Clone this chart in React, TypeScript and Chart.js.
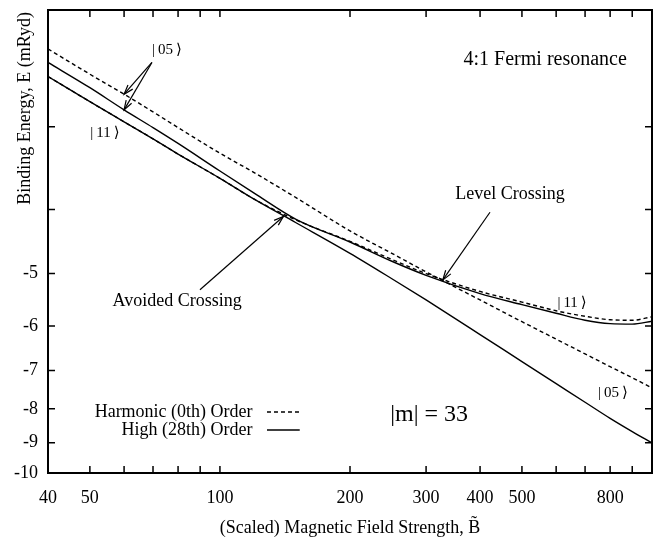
import React, { useEffect, useRef } from 'react';
import { Chart, registerables } from 'chart.js';

Chart.register(...registerables);

const SERIF = '"Liberation Serif", "Times New Roman", "DejaVu Serif", serif';

// Scaled magnetic field strength at which the levels are tabulated
const fieldB = [40, 50, 60, 70, 80, 100, 120, 150, 200, 250, 300, 400, 500, 600, 700, 800, 900, 1000];

// Binding energies E (mRyd), harmonic (0th order) approximation
const harmonic05 = [-2.29, -2.50, -2.68, -2.85, -3.01, -3.29, -3.52, -3.84, -4.31, -4.66, -4.97, -5.48, -5.91, -6.28, -6.61, -6.91, -7.18, -7.44];
const harmonic11 = [-2.52, -2.75, -2.95, -3.13, -3.30, -3.59, -3.86, -4.15, -4.47, -4.76, -5.00, -5.32, -5.52, -5.69, -5.80, -5.87, -5.88, -5.81];

// High (28th) order: the two branches on either side of the avoided crossing
const highUpper = [-2.40, -2.62, -2.83, -3.01, -3.18, -3.50, -3.78, -4.14, -4.48, -4.79, -5.03, -5.36, -5.57, -5.74, -5.88, -5.95, -5.96, -5.90];
const highLower = [-2.52, -2.75, -2.95, -3.13, -3.30, -3.59, -3.86, -4.19, -4.66, -5.09, -5.48, -6.18, -6.79, -7.33, -7.82, -8.27, -8.66, -9.01];

// Axis ticks
const xTicks = [40, 50, 60, 70, 80, 90, 100, 200, 300, 400, 500, 600, 700, 800, 900, 1000];
const xLabelled = [40, 50, 100, 200, 300, 400, 500, 800];
const yTicks = [-2, -3, -4, -5, -6, -7, -8, -9, -10];
const yLabelled = [-5, -6, -7, -8, -9, -10];

const KET05 = '|\u200905\u2009\u27E9';
const KET11 = '|\u200911\u2009\u27E9';

// Text notes placed in (B, E) coordinates
const notes = [
  { text: '4:1 Fermi resonance', b: 566, e: -2.38, size: 20 },
  { text: KET05, b: 75.4, e: -2.30, size: 15 },
  { text: KET11, b: 54.2, e: -3.07, size: 15 },
  { text: 'Level Crossing', b: 469, e: -3.80, size: 18 },
  { text: 'Avoided Crossing', b: 79.6, e: -5.51, size: 18 },
  { text: KET11, b: 653, e: -5.54, size: 15 },
  { text: KET05, b: 812, e: -7.57, size: 15 },
  { text: '|m| = 33', b: 305, e: -8.17, size: 24 },
];

// Arrows from a note to a point on the curves
const pointers = [
  { from: [69.6, -2.40], to: [fieldB[2], harmonic05[2]] },
  { from: [69.6, -2.40], to: [fieldB[2], highUpper[2]] },
  { from: [421.7, -4.04], to: [328, -5.11] },
  { from: [89.9, -5.29], to: [140.2, -4.10] },
];

const legendRows = [
  { label: 'Harmonic (0th) Order', dash: [4, 3], e: -8.09 },
  { label: 'High (28th) Order', dash: [] as number[], e: -8.61 },
];
const legendTextB = 119;
const legendSample = [128.5, 153];

function arrow(ctx: CanvasRenderingContext2D, x0: number, y0: number, x1: number, y1: number) {
  ctx.beginPath();
  ctx.moveTo(x0, y0);
  ctx.lineTo(x1, y1);
  ctx.stroke();
  const ang = Math.atan2(y1 - y0, x1 - x0);
  const L = 10;
  const w = 0.32;
  ctx.beginPath();
  ctx.moveTo(x1 - L * Math.cos(ang - w), y1 - L * Math.sin(ang - w));
  ctx.lineTo(x1, y1);
  ctx.lineTo(x1 - L * Math.cos(ang + w), y1 - L * Math.sin(ang + w));
  ctx.stroke();
}

const frameAndNotes = {
  id: 'frameAndNotes',
  afterDatasetsDraw(chart: any) {
    const { ctx, chartArea: a, scales } = chart;
    const X = (b: number) => scales.x.getPixelForValue(b);
    const Y = (e: number) => scales.y.getPixelForValue(-e);
    ctx.save();
    ctx.strokeStyle = '#000';
    ctx.fillStyle = '#000';

    // inward tick marks on all four sides
    const T = 7;
    ctx.lineWidth = 1.5;
    ctx.beginPath();
    xTicks.forEach((b) => {
      const x = X(b);
      ctx.moveTo(x, a.bottom);
      ctx.lineTo(x, a.bottom - T);
      ctx.moveTo(x, a.top);
      ctx.lineTo(x, a.top + T);
    });
    yTicks.forEach((e) => {
      const y = Y(e);
      ctx.moveTo(a.left, y);
      ctx.lineTo(a.left + T, y);
      ctx.moveTo(a.right, y);
      ctx.lineTo(a.right - T, y);
    });
    ctx.stroke();

    // frame
    ctx.lineWidth = 2;
    ctx.strokeRect(a.left, a.top, a.right - a.left, a.bottom - a.top);

    // notes
    ctx.textAlign = 'center';
    ctx.textBaseline = 'middle';
    notes.forEach((n) => {
      ctx.font = `${n.size}px ${SERIF}`;
      ctx.fillText(n.text, X(n.b), Y(n.e));
    });

    // arrows
    ctx.lineWidth = 1.2;
    pointers.forEach((p) => arrow(ctx, X(p.from[0]), Y(p.from[1]), X(p.to[0]), Y(p.to[1])));

    // key
    ctx.font = `18px ${SERIF}`;
    ctx.textAlign = 'right';
    legendRows.forEach((r) => {
      const y = Y(r.e);
      ctx.fillText(r.label, X(legendTextB), y);
      ctx.setLineDash(r.dash);
      ctx.lineWidth = 1.4;
      ctx.beginPath();
      ctx.moveTo(X(legendSample[0]), y);
      ctx.lineTo(X(legendSample[1]), y);
      ctx.stroke();
      ctx.setLineDash([]);
    });

    // y-axis title along the upper part of the axis
    ctx.translate(a.left - 23, a.top + 2);
    ctx.rotate(-Math.PI / 2);
    ctx.textAlign = 'right';
    ctx.font = `18px ${SERIF}`;
    ctx.fillText('Binding Energy, E (mRyd)', 0, 0);
    ctx.restore();
  },
};

function curve(label: string, values: number[], dash: number[]) {
  return {
    label,
    data: fieldB.map((b, i) => ({ x: b, y: -values[i] })),
    borderColor: '#000',
    borderWidth: 1.4,
    borderDash: dash,
    pointRadius: 0,
    fill: false,
    cubicInterpolationMode: 'monotone' as const,
  };
}

export default function App() {
  const ref = useRef<HTMLCanvasElement>(null);

  useEffect(() => {
    if (!ref.current) return;
    const chart = new Chart(ref.current, {
      type: 'line',
      data: {
        datasets: [
          curve('High (28th) Order, upper branch', highUpper, []),
          curve('High (28th) Order, lower branch', highLower, []),
          curve('Harmonic (0th) Order |05>', harmonic05, [4, 3]),
          curve('Harmonic (0th) Order |11>', harmonic11, [4, 3]),
        ],
      },
      options: {
        responsive: false,
        animation: false,
        devicePixelRatio: 1,
        layout: { padding: { top: 10, right: 5, left: 0, bottom: 0 } },
        plugins: { legend: { display: false }, tooltip: { enabled: false } },
        scales: {
          x: {
            type: 'logarithmic',
            position: 'bottom',
            min: 40,
            max: 1000,
            grid: { display: false, drawTicks: false },
            border: { display: false },
            afterBuildTicks: (s: any) => {
              s.ticks = xTicks.map((v) => ({ value: v }));
            },
            afterFit: (s: any) => {
              s.height = 68;
              s.paddingLeft = 0;
              s.paddingRight = 0;
            },
            ticks: {
              autoSkip: false,
              maxRotation: 0,
              minRotation: 0,
              padding: 14,
              color: '#000',
              font: { family: SERIF, size: 18 },
              callback: (v: any) => (xLabelled.includes(Number(v)) ? String(v) : ''),
            },
            title: {
              display: true,
              text: '(Scaled) Magnetic Field Strength, B\u0303',
              color: '#000',
              font: { family: SERIF, size: 18 },
              padding: { top: 0, bottom: 2 },
            },
          },
          y: {
            type: 'logarithmic',
            position: 'left',
            min: 2,
            max: 10,
            reverse: true,
            grid: { display: false, drawTicks: false },
            border: { display: false },
            afterBuildTicks: (s: any) => {
              s.ticks = yTicks.map((e) => ({ value: -e }));
            },
            afterFit: (s: any) => {
              s.width = 48;
              s.paddingTop = 0;
              s.paddingBottom = 0;
            },
            ticks: {
              autoSkip: false,
              padding: 10,
              color: '#000',
              font: { family: SERIF, size: 18 },
              callback: (v: any) => (yLabelled.includes(-Number(v)) ? String(-Number(v)) : ''),
            },
          },
        },
      },
      plugins: [frameAndNotes],
    } as any);
    return () => chart.destroy();
  }, []);

  return (
    <div style={{ position: 'fixed', left: 0, top: 0, width: 657, height: 541, background: '#fff' }}>
      <canvas ref={ref} width={657} height={541} style={{ display: 'block' }} />
    </div>
  );
}
